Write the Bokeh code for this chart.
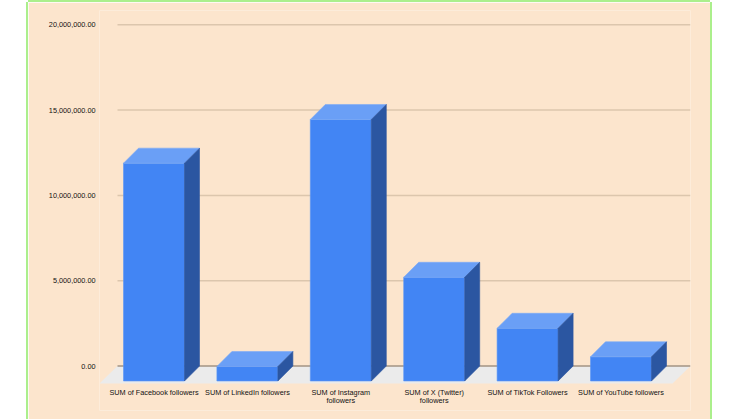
from bokeh.plotting import figure
from bokeh.models import Range1d, FixedTicker, NumeralTickFormatter
from bokeh.core.properties import value
from bokeh.embed import file_html
from bokeh.resources import INLINE

# ---- data ----
categories = [
    "SUM of Facebook followers",
    "SUM of LinkedIn followers",
    "SUM of Instagram\nfollowers",
    "SUM of X (Twitter)\nfollowers",
    "SUM of TikTok Followers",
    "SUM of YouTube followers",
]
followers = [12770000, 850000, 15330000, 6080000, 3090000, 1420000]
y_ticks = [0, 5000000, 10000000, 15000000, 20000000]

# ---- layout (pixels) ----
W, H = 682, 417
ML, MR, MT, MB = 71, 20, 8, 9
FW = W - ML - MR
FH = H - MT - MB
PX_CAT = 93.4          # px per category step
PX_Y = 17.06 / 1e6     # px per follower
ZERO_PX = 365.5        # page y of zero line
FRAME_BOTTOM_PX = 2 + H - MB

x_start = -(153.5 - 99) / PX_CAT
x_end = x_start + FW / PX_CAT
y_start = -(FRAME_BOTTOM_PX - ZERO_PX) / PX_Y
y_end = y_start + FH / PX_Y

bar_w = 61 / PX_CAT
bdx = 15 / PX_CAT
bdy = 15 / PX_Y
fdx = 18 / PX_CAT
fdy = (383 - ZERO_PX) / PX_Y
label_y = -(387.2 - ZERO_PX) / PX_Y

p = figure(width=W, height=H, output_backend="svg", toolbar_location=None,
           x_range=Range1d(x_start, x_end), y_range=Range1d(y_start, y_end),
           min_border_left=ML, min_border_right=MR, min_border_top=MT, min_border_bottom=MB,
           margin=(2, 0, 0, 28))
p.styles = {"box-shadow": "-2px 0 0 #abef8c, 2px 0 0 #abef8c, 0 -2px 0 #abef8c"}
p.background_fill_color = "#fce5cd"
p.border_fill_color = "#fce5cd"
p.outline_line_color = None
p.xgrid.visible = False
p.ygrid.visible = False

# floor
p.patch([x_start + fdx, x_end, x_end - fdx, x_start], [0, 0, -fdy, -fdy],
        fill_color="#ebebeb", line_color=None)

# gridlines on back plane
gl = [t for t in y_ticks if t != 0]
p.segment(x0=[x_start + fdx] * len(gl), y0=gl, x1=[x_end] * len(gl), y1=gl,
          line_color="#dcc6ad", line_width=1.5)
p.segment(x0=[x_start + fdx], y0=[0], x1=[x_end], y1=[0],
          line_color="#a39383", line_width=1.5)

# bars
idx = list(range(len(categories)))
lefts = [i - bar_w / 2 for i in idx]
rights = [i + bar_w / 2 for i in idx]
p.quad(left=lefts, right=rights, bottom=[-bdy] * len(idx), top=[v - bdy for v in followers],
       fill_color="#4285f4", line_color="#5b95f5", line_width=0.6)
top_xs = [[l, r, r + bdx, l + bdx] for l, r in zip(lefts, rights)]
top_ys = [[v - bdy, v - bdy, v, v] for v in followers]
p.patches(top_xs, top_ys, fill_color="#6a9ff6", line_color="#7aa9f6", line_width=0.6)
side_xs = [[r, r + bdx, r + bdx, r] for r in rights]
side_ys = [[-bdy, 0, v, v - bdy] for v in followers]
p.patches(side_xs, side_ys, fill_color="#2b56a1", line_color="#2b56a1", line_width=0.6)

# category labels
p.text(x=idx, y=[label_y] * len(idx), text=categories,
       text_font=value("Liberation Sans"), text_font_size="7.3px",
       text_color="#111111", text_align="center", text_baseline="top",
       text_line_height=0.95)

# axes
p.xaxis.visible = False
ax = p.yaxis[0]
ax.axis_line_color = None
ax.major_tick_line_color = None
ax.minor_tick_line_color = None
ax.major_tick_out = 0
ax.major_tick_in = 0
ax.major_label_text_font = "Liberation Sans"
ax.major_label_text_font_size = "7.3px"
ax.major_label_text_color = "#111111"
ax.ticker = FixedTicker(ticks=y_ticks)
ax.formatter = NumeralTickFormatter(format="0,0.00")
ax.major_label_standoff = 4

open("out.html", "w").write(file_html(p, INLINE))
